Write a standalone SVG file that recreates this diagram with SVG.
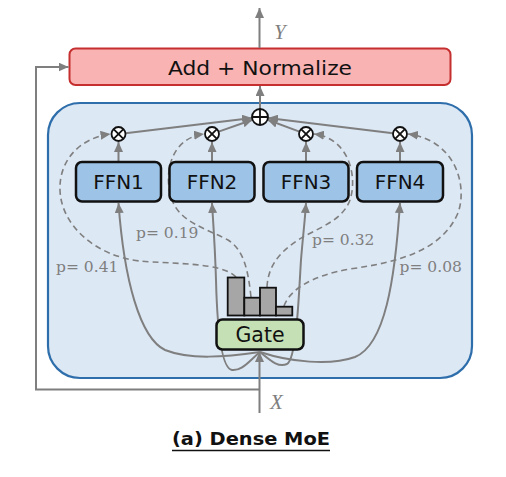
<svg xmlns="http://www.w3.org/2000/svg" width="506" height="477" viewBox="0 0 506 477">
<defs>
<marker id="ah" markerUnits="userSpaceOnUse" markerWidth="11" markerHeight="9" refX="10" refY="4.5" orient="auto"><path d="M0,0 L10,4.5 L0,9 z" fill="#7f7f7f"/></marker>
<style>
.ln{fill:none;stroke:#7f7f7f;stroke-width:2}
.ds{fill:none;stroke:#7f7f7f;stroke-width:1.6;stroke-dasharray:6,4}
.box{stroke:#111;stroke-width:2.5}
.ffn{fill:#9dc3e6}
.t{font-family:"DejaVu Sans",sans-serif;fill:#111;text-anchor:middle}
.p{font-family:"DejaVu Serif",serif;font-size:15.5px;fill:#7f7f7f}
.v{font-family:"Liberation Serif",serif;font-style:italic;font-size:21px;fill:#7f7f7f}
.op{fill:#fff;stroke:#111;stroke-width:1.8}
</style>
</defs>
<rect width="506" height="477" fill="#fff"/>
<g id="container"><rect x="48" y="103" width="424" height="275" rx="32" fill="#dde8f5" stroke="#2e6eab" stroke-width="2.2"/></g>
<g id="add"><rect x="69.5" y="48.5" width="381" height="36.5" rx="6" fill="#f9b3b3" stroke="#c62f2f" stroke-width="2"/><text class="t" x="260" y="75" font-size="19" textLength="184" lengthAdjust="spacingAndGlyphs">Add + Normalize</text></g>
<g id="connectors">
<path class="ln" d="M259.5,48 L259.5,8" marker-end="url(#ah)"/>
<path class="ln" d="M259.5,389.5 L36,389.5 L36,67 L68.5,67" marker-end="url(#ah)"/>
<path class="ln" d="M260,109 L260,86" marker-end="url(#ah)"/>
<path class="ln" d="M259.5,413 L259.5,352" marker-end="url(#ah)"/>
<path class="ln" d="M125.5,133.2 L252.1,118" marker-end="url(#ah)"/>
<path class="ln" d="M218.6,131.6 L252.5,119.7" marker-end="url(#ah)"/>
<path class="ln" d="M299.4,131.6 L267.5,119.8" marker-end="url(#ah)"/>
<path class="ln" d="M393,133.2 L267.9,118" marker-end="url(#ah)"/>
<path class="ln" d="M118.5,162 L118.5,142" marker-end="url(#ah)"/>
<path class="ln" d="M212,162 L212,142" marker-end="url(#ah)"/>
<path class="ln" d="M306,162 L306,142" marker-end="url(#ah)"/>
<path class="ln" d="M400,162 L400,142" marker-end="url(#ah)"/>
<path class="ln" d="M260,352 C225,357 190,360 165,350 C140,338 124,280 118.5,203" marker-end="url(#ah)"/>
<path class="ln" d="M260,352 C248,362 242,371 232,370 C220,368 217,320 216,280 C215,245 213,220 212,203" marker-end="url(#ah)"/>
<path class="ln" d="M260,352 C270,360 278,368 287,364 C297,358 299,290 301,260 C303,235 305,220 306,203" marker-end="url(#ah)"/>
<path class="ln" d="M260,352 C290,362 330,366 355,357 C385,345 395,280 400,203" marker-end="url(#ah)"/>
<path class="ds" d="M236,277 C222,262 170,264 140,261 C95,256 61,225 60,190 C59,160 80,138 110.5,134" marker-end="url(#ah)"/>
<path class="ds" d="M251,297 C248,270 244,250 228,240 C205,228 180,222 172,200 C163,175 170,138 204,134" marker-end="url(#ah)"/>
<path class="ds" d="M267,287 C268,270 275,255 298,240 C315,229 342,222 350,200 C358,175 348,138 314,134" marker-end="url(#ah)"/>
<path class="ds" d="M284,306 C290,290 310,276 350,269 C400,262 442,250 458,213 C468,185 455,140 408,134" marker-end="url(#ah)"/>
</g>
<g id="sum"><circle class="op" cx="260" cy="117" r="8"/><path d="M252,117 H268 M260,109 V125" stroke="#111" stroke-width="1.8"/></g>
<g id="mul1"><circle class="op" cx="118.5" cy="134" r="7"/><path d="M113.6,129.1 L123.4,138.9 M123.4,129.1 L113.6,138.9" stroke="#111" stroke-width="1.8"/></g>
<g id="mul2"><circle class="op" cx="212" cy="134" r="7"/><path d="M207.1,129.1 L216.9,138.9 M216.9,129.1 L207.1,138.9" stroke="#111" stroke-width="1.8"/></g>
<g id="mul3"><circle class="op" cx="306" cy="134" r="7"/><path d="M301.1,129.1 L310.9,138.9 M310.9,129.1 L301.1,138.9" stroke="#111" stroke-width="1.8"/></g>
<g id="mul4"><circle class="op" cx="400" cy="134" r="7"/><path d="M395.1,129.1 L404.9,138.9 M404.9,129.1 L395.1,138.9" stroke="#111" stroke-width="1.8"/></g>
<g id="ffn1"><rect class="box ffn" x="76" y="162" width="85" height="39.5" rx="6"/><text class="t" x="118.5" y="189" font-size="20">FFN1</text></g>
<g id="ffn2"><rect class="box ffn" x="169.5" y="162" width="85" height="39.5" rx="6"/><text class="t" x="212" y="189" font-size="20">FFN2</text></g>
<g id="ffn3"><rect class="box ffn" x="263.5" y="162" width="85" height="39.5" rx="6"/><text class="t" x="306" y="189" font-size="20">FFN3</text></g>
<g id="ffn4"><rect class="box ffn" x="357" y="162" width="86" height="39.5" rx="6"/><text class="t" x="400" y="189" font-size="20">FFN4</text></g>
<g id="hist" fill="#a6a6a6" stroke="#111" stroke-width="1.8">
<rect x="227.7" y="277.5" width="16.6" height="38"/>
<rect x="244.3" y="297.7" width="15.7" height="17.8"/>
<rect x="260" y="287.7" width="16" height="27.8"/>
<rect x="276" y="306.7" width="16.3" height="8.8"/>
</g>
<g id="gate"><rect class="box" x="216.5" y="319.5" width="87" height="30" rx="6" fill="#c5e0b4"/><text class="t" x="260" y="342" font-size="20.5">Gate</text></g>
<g id="labels">
<text class="p" x="56" y="272">p= 0.41</text>
<text class="p" x="136" y="238">p= 0.19</text>
<text class="p" x="312" y="244.5">p= 0.32</text>
<text class="p" x="399.5" y="272">p= 0.08</text>
<text class="v" x="274" y="39">Y</text>
<text class="v" x="270" y="409">X</text>
</g>
<g id="caption"><text x="251" y="445" font-family="DejaVu Sans,sans-serif" font-weight="bold" font-size="18.5" text-anchor="middle" textLength="158" lengthAdjust="spacingAndGlyphs" fill="#111">(a) Dense MoE</text><line x1="172" y1="450.5" x2="330" y2="450.5" stroke="#111" stroke-width="1.6"/></g>
</svg>
